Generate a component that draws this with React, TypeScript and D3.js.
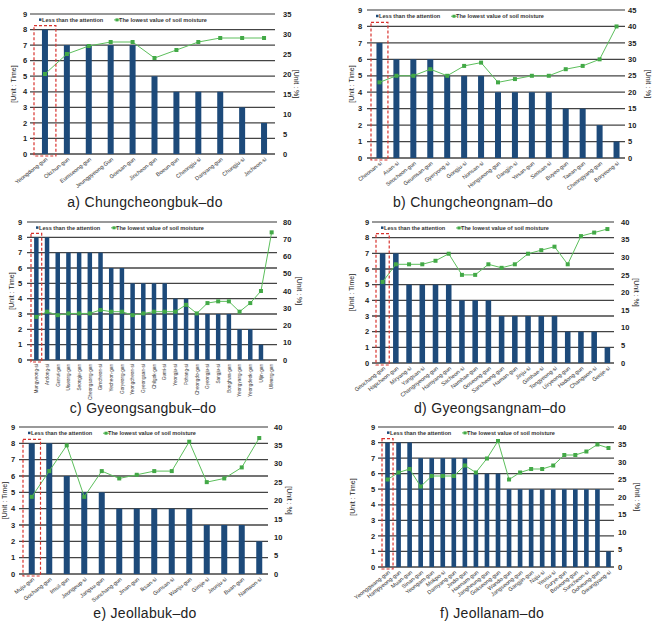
import React from 'react';
import * as d3 from 'd3';

// a) Chungcheongbuk-do
const cbNames = ['Yeongdong-gun', 'Okchun-gun', 'Eumseong-gun', 'Jeungpyeong-Gun', 'Goesan-gun', 'Jincheon-gun', 'Boeun-gun', 'Cheongju-si', 'Danyang-gun', 'Chungju-si', 'Jecheon-si'];
const cbCounts = [8, 7, 7, 7, 7, 5, 4, 4, 4, 3, 2];
const cbMoisture = [20, 25, 27, 28, 28, 24, 26, 28, 29, 29, 29];

// b) Chungcheongnam-do
const cnNames = ['Cheonan-si', 'Asan-si', 'Seocheon-gun', 'Geumsan-gun', 'Gyeryong-si', 'Gongju-si', 'Nonsan-si', 'Hongseong-gun', 'Dangjin-si', 'Yesan-gun', 'Seosan-si', 'Buyeo-gun', 'Taean-gun', 'Cheongyang-gun', 'Boryeong-si'];
const cnCounts = [7, 6, 6, 6, 5, 5, 5, 4, 4, 4, 4, 3, 3, 2, 1];
const cnMoisture = [23, 25, 25, 27, 25, 28, 29, 23, 24, 25, 25, 27, 28, 30, 40];

// c) Gyeongsangbuk-do
const gbNames = ['Mungyeong-si', 'Andong-si', 'Gunwi-gun', 'Uiseong-gun', 'Seongju-gun', 'Cheongsong-gun', 'Gimcheon-si', 'Yecheon-gun', 'Goryeong-gun', 'Yeongcheon-si', 'Gyeongsan-si', 'Chilgok-gun', 'Gumi-si', 'Yeongju-si', 'Pohang-si', 'Cheongdo-gun', 'Gyeongju-si', 'Sangju-si', 'Bonghwa-gun', 'Yeongyang-gun', 'Yeongdeok-gun', 'Uljin-gun', 'Ulleung-gun'];
const gbCounts = [8, 8, 7, 7, 7, 7, 7, 6, 6, 5, 5, 5, 5, 4, 4, 3, 3, 3, 3, 2, 2, 1, 0];
const gbMoisture = [25, 28, 26, 27, 27, 27, 29, 28, 28, 26, 27, 28, 28, 28, 32, 27, 33, 34, 34, 28, 33, 40, 74];

// d) Gyeongsangnam-do
const gnNames = ['Geochang-gun', 'Hapcheon-gun', 'Miryang-si', 'Yangsan-si', 'Changnyeong-gun', 'Hamyang-gun', 'Sacheon-si', 'Namhae-gun', 'Goseong-gun', 'Sancheong-gun', 'Haman-gun', 'Jinju-si', 'Gimhae-si', 'Tongyeong-si', 'Uiryeong-gun', 'Hadong-gun', 'Changwon-si', 'Geoje-si'];
const gnCounts = [7, 7, 5, 5, 5, 5, 4, 4, 4, 3, 3, 3, 3, 3, 2, 2, 2, 1];
const gnMoisture = [23, 28, 28, 28, 29, 31, 25, 25, 28, 27, 28, 31, 32, 33, 28, 36, 37, 38];

// e) Jeollabuk-do
const jbNames = ['Muju-gun', 'Gochang-gun', 'Imsil-gun', 'Jeongeup-si', 'Jangsu-gun', 'Sunchang-gun', 'Jinan-gun', 'Iksan-si', 'Gunsan-si', 'Wanju-gun', 'Gimje-si', 'Jeonju-si', 'Buan-gun', 'Namwon-si'];
const jbCounts = [8, 8, 6, 5, 5, 4, 4, 4, 4, 4, 3, 3, 3, 2];
const jbMoisture = [21, 28, 35, 21, 28, 26, 27, 28, 28, 36, 25, 26, 29, 37];

// f) Jeollanam-do
const jnNames = ['Yeonggwang-gun', 'Hampyeong-gun', 'Muan-gun', 'Sinan-gun', 'Yeongam-gun', 'Mokpo-si', 'Damyang-gun', 'Jindo-gun', 'Haenam-gun', 'Jangheung-gun', 'Gokseong-gun', 'Wando-gun', 'Jangseong-gun', 'Gangjin-gun', 'Naju-si', 'Yeosu-si', 'Gurye-gun', 'Boseong-gun', 'Suncheon-si', 'Goheung-gun', 'Gwangyang-si'];
const jnCounts = [8, 8, 8, 7, 7, 7, 7, 7, 6, 6, 6, 5, 5, 5, 5, 5, 5, 5, 5, 5, 1];
const jnMoisture = [25, 27, 28, 23, 26, 26, 26, 29, 27, 31, 36, 25, 27, 28, 28, 29, 32, 32, 33, 35, 34];

const timeTicks = d3.range(0, 10);

const BAR = '#1d4a7a';
const LINE = '#5cbf5c';
const MARK = '#43a947';
const GRID = '#444';
const FONT = '"Liberation Sans", Arial, sans-serif';

interface PanelProps {
  caption: string;
  names: string[];
  counts: number[];
  moisture: number[];
  pctMax: number;
  pctStep: number;
  left: number;
  right: number;
  top: number;
  bottom: number;
  tickX: number;
  pctX: number;
  unitLX: number;
  unitRX: number;
  captionX: number;
  captionY: number;
  vertical?: boolean;
}

const Panel = (p: PanelProps) => {
  const x = d3.scaleBand<string>().domain(p.names).range([p.left + 4, p.right]).padding(0);
  const y = d3.scaleLinear().domain([0, 9]).range([p.bottom, p.top]);
  const yp = d3.scaleLinear().domain([0, p.pctMax]).range([p.bottom, p.top]);
  const bw = Math.min(6, x.bandwidth() * 0.42);
  const cx = (n: string) => (x(n) ?? 0) + x.bandwidth() / 2;

  const line = d3.line<number>()
    .x((_, i) => cx(p.names[i]))
    .y((v) => yp(v));

  const first = p.names[0];
  const boxX = x(first) ?? 0;
  const midY = (p.top + p.bottom) / 2;
  const legY = y(8.62);

  return (
    <g fontFamily={FONT}>
      {timeTicks.map((t) => (
        <g key={t}>
          <line x1={p.left} x2={p.right} y1={y(t)} y2={y(t)} stroke={t === 9 ? '#777' : GRID} strokeWidth={1.3} />
          <text x={p.tickX} y={y(t)} dy="0.35em" textAnchor="middle" fontSize={7.5} fontWeight="bold" fill="#222">{t}</text>
        </g>
      ))}
      {d3.range(0, p.pctMax + 1, p.pctStep).map((t) => (
        <text key={t} x={p.pctX} y={yp(t)} dy="0.35em" textAnchor="start" fontSize={7.5} fontWeight="bold" fill="#222">{t}</text>
      ))}
      <text transform={`translate(${p.unitLX},${midY}) rotate(-90)`} textAnchor="middle" dy="0.35em" fontSize={7} fill="#222">[Unit : Time]</text>
      <text transform={`translate(${p.unitRX},${midY}) rotate(90)`} textAnchor="middle" dy="0.35em" fontSize={7} fill="#222">[Unit : %]</text>

      {p.names.map((n, i) => (
        <rect key={n} x={cx(n) - bw / 2} y={y(p.counts[i])} width={bw} height={p.bottom - y(p.counts[i])} fill={BAR} />
      ))}

      <path d={line(p.moisture) ?? ''} fill="none" stroke={LINE} strokeWidth={1} />
      {p.moisture.map((v, i) => (
        <rect key={i} x={cx(p.names[i]) - 2} y={yp(v) - 2} width={4} height={4} fill={MARK} />
      ))}

      <rect x={boxX} y={y(8) - 4} width={x.bandwidth()} height={p.bottom - y(8) + 6} fill="none" stroke="#d8322d" strokeWidth={1.2} strokeDasharray="3,2" />

      {p.names.map((n) =>
        p.vertical ? (
          <text key={n} transform={`translate(${cx(n) + 1.8},${p.bottom + 4}) rotate(-90)`} textAnchor="end" fontSize={4.7} fill="#333">{n}</text>
        ) : (
          <text key={n} transform={`translate(${cx(n) + 3},${p.bottom + 6}) rotate(-38)`} textAnchor="end" fontSize={5.6} fill="#333">{n}</text>
        )
      )}

      <rect x={p.left + 9} y={legY - 1.5} width={2.5} height={2.5} fill={BAR} />
      <text x={p.left + 12} y={legY} dy="0.35em" fontSize={5.6} fontWeight="bold" fill="#333">Less than the attention</text>
      <line x1={p.left + 84} x2={p.left + 90} y1={legY} y2={legY} stroke={LINE} strokeWidth={1} />
      <rect x={p.left + 85.5} y={legY - 1.5} width={3} height={3} fill={MARK} />
      <text x={p.left + 89} y={legY} dy="0.35em" fontSize={5.6} fontWeight="bold" fill="#333">The lowest value of soil moisture</text>

      <text x={p.captionX} y={p.captionY} textAnchor="middle" fontSize={14} letterSpacing={0.3} fill="#222">{p.caption}</text>
    </g>
  );
};

export default function App() {
  return (
    <svg width={670} height={629} style={{ position: 'absolute', left: 0, top: 0, background: '#fff' }}>
      <Panel caption="a)  Chungcheongbuk–do" names={cbNames} counts={cbCounts} moisture={cbMoisture} pctMax={35} pctStep={5}
        left={30} right={275} top={14} bottom={154} tickX={25} pctX={283} unitLX={14} unitRX={296} captionX={145} captionY={207} />
      <Panel caption="b)  Chungcheongnam–do" names={cnNames} counts={cnCounts} moisture={cnMoisture} pctMax={45} pctStep={5}
        left={367} right={625} top={10} bottom={158} tickX={360} pctX={628} unitLX={352} unitRX={648} captionX={473} captionY={207} />
      <Panel caption="c)  Gyeongsangbuk–do" names={gbNames} counts={gbCounts} moisture={gbMoisture} pctMax={80} pctStep={10}
        left={27} right={277} top={222} bottom={360} tickX={20} pctX={283} unitLX={12} unitRX={299} captionX={143} captionY={413} vertical />
      <Panel caption="d)  Gyeongsangnam–do" names={gnNames} counts={gnCounts} moisture={gnMoisture} pctMax={40} pctStep={5}
        left={372} right={614} top={222} bottom={363} tickX={367} pctX={621} unitLX={352} unitRX={636} captionX={490} captionY={413} />
      <Panel caption="e)  Jeollabuk–do" names={jbNames} counts={jbCounts} moisture={jbMoisture} pctMax={40} pctStep={5}
        left={19} right={268} top={427} bottom={574} tickX={13} pctX={274} unitLX={5} unitRX={289} captionX={145} captionY={618} />
      <Panel caption="f)  Jeollanam–do" names={jnNames} counts={jnCounts} moisture={jnMoisture} pctMax={40} pctStep={5}
        left={378} right={614} top={427} bottom={567} tickX={373} pctX={618} unitLX={353} unitRX={637} captionX={492} captionY={618} />
    </svg>
  );
}
